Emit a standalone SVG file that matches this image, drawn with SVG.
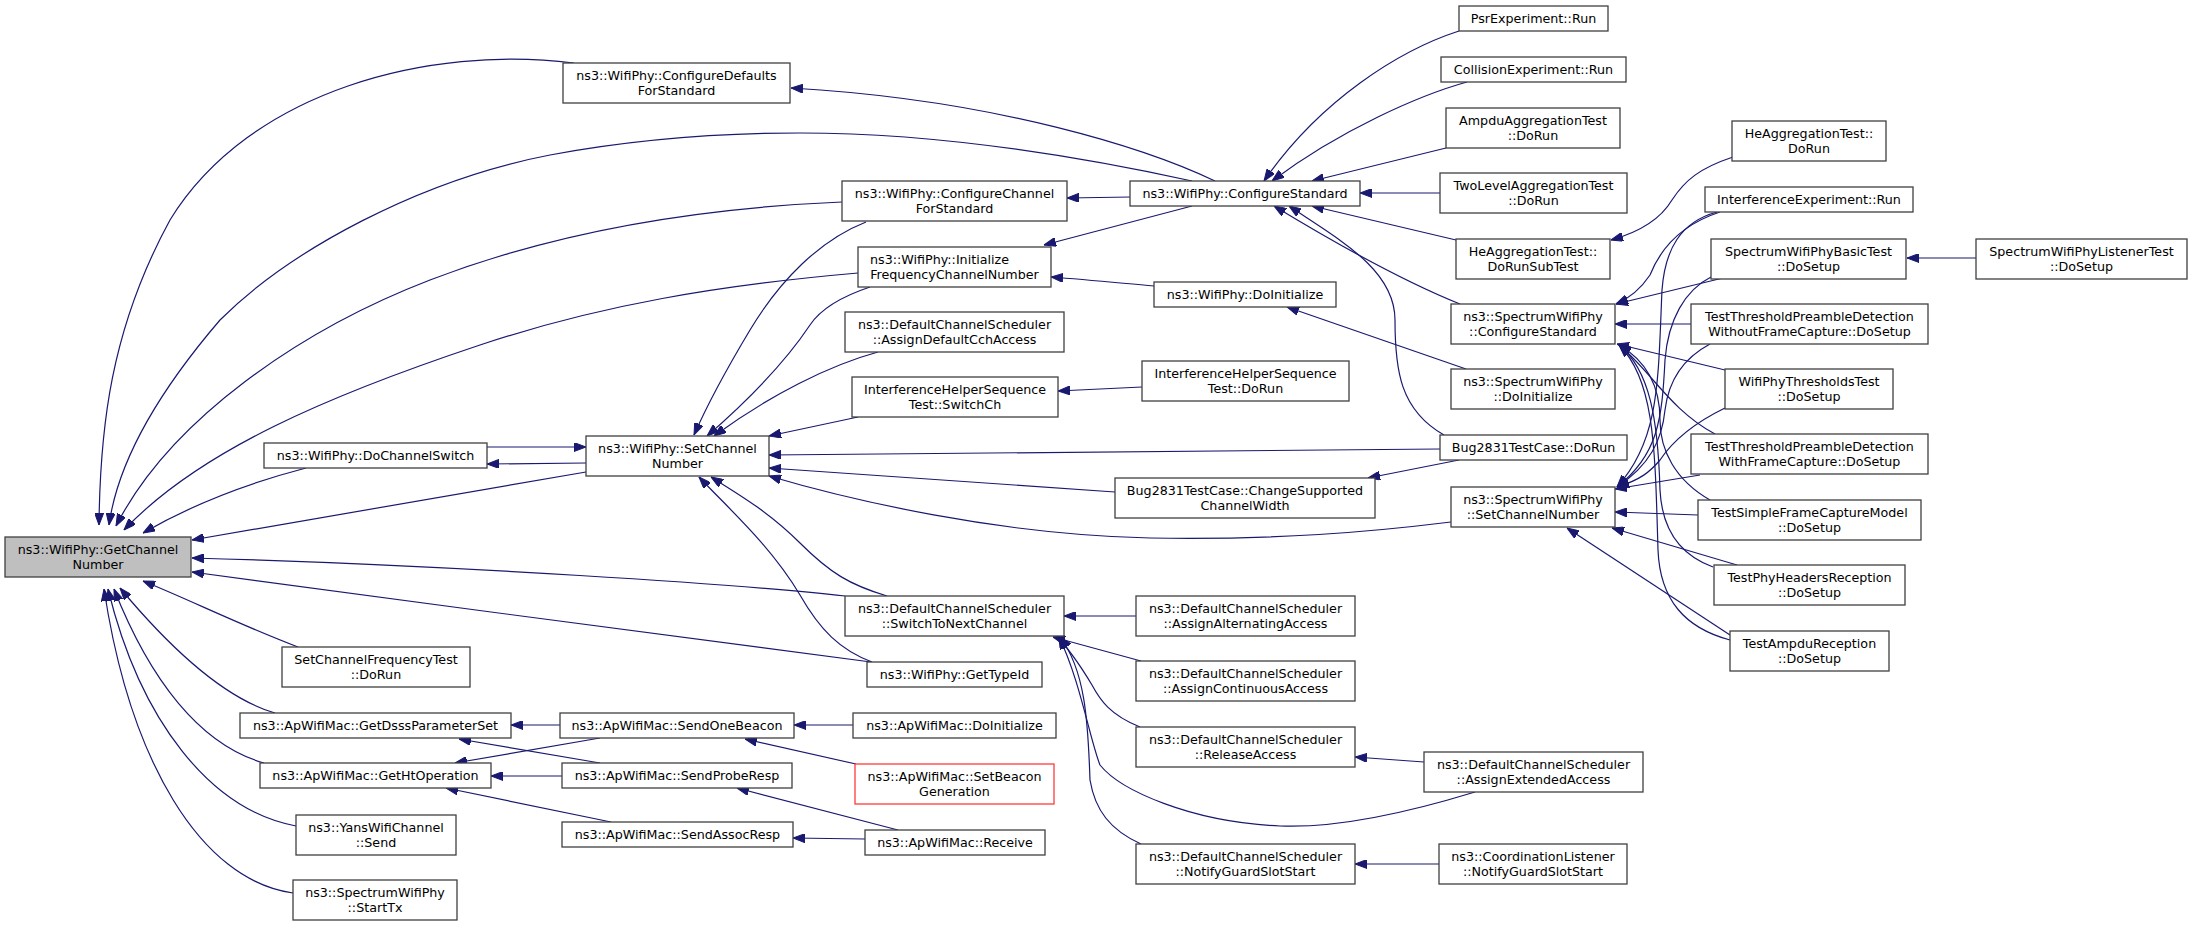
<svg xmlns="http://www.w3.org/2000/svg" width="2192" height="925" viewBox="0 0 2192 925">
<style>
rect{fill:#fff;stroke:#404040;stroke-width:1.3}
rect.hl{fill:#bfbfbf}
rect.red{stroke:#ff3a3a}
text{font-family:"DejaVu Sans","Liberation Sans",sans-serif;font-size:12.7px;text-anchor:middle;fill:#000}
text.l{text-anchor:start}
#edges path{fill:none;stroke:#191970;stroke-width:1.2;marker-end:url(#a)}
</style>
<defs>
<marker id="a" markerUnits="userSpaceOnUse" markerWidth="12" markerHeight="9" refX="12" refY="4.5" orient="auto" viewBox="0 0 12 9"><path d="M0,0 L12,4.5 L0,9 z" fill="#191970" stroke="#191970" stroke-width="1"/></marker>
</defs>
<rect x="0" y="0" width="2192" height="925" style="fill:#fff;stroke:none"/>
<g id="edges">
<path d="M574,63 C430,45 250,90 170,220 C110,330 100,430 99,525"/>
<path d="M1192,181 C1050,150 920,133 800,133 C700,133 620,142 550,155 C420,180 290,250 220,320 C160,390 118,460 109,525"/>
<path d="M842,202 C700,208 560,230 430,280 C300,330 170,420 116,526"/>
<path d="M858,273 C720,285 600,305 480,345 C330,395 200,450 124,530"/>
<path d="M306,468 C260,480 200,500 143,533"/>
<path d="M586,472 L192,540"/>
<path d="M845,596 C750,585 450,565 192,558"/>
<path d="M871,662 C700,640 400,600 192,572"/>
<path d="M298,647 C240,625 190,600 143,581"/>
<path d="M275,713 C230,700 180,660 120,588"/>
<path d="M264,763 C200,745 150,680 114,589"/>
<path d="M296,826 C210,810 140,720 108,589"/>
<path d="M293,893 C200,880 130,760 104,589"/>
<path d="M487,447 L586,447"/>
<path d="M586,463 L487,464"/>
<path d="M866,222 C820,240 780,280 750,330 C720,380 705,410 694,435"/>
<path d="M870,287 C840,297 820,310 810,325 C790,355 760,390 707,436"/>
<path d="M878,352 C830,365 770,395 714,436"/>
<path d="M858,417 L769,436"/>
<path d="M1440,449 L769,455"/>
<path d="M1115,492 L769,468"/>
<path d="M1451,522 C1370,532 1280,540 1150,538 C1000,535 850,500 769,476"/>
<path d="M887,596 C850,585 830,573 800,543 C770,513 740,495 711,477"/>
<path d="M872,662 C840,650 820,630 800,595 C770,545 730,510 699,477"/>
<path d="M1215,181 C1150,150 1000,100 791,88"/>
<path d="M1131,197 L1067,198"/>
<path d="M1192,206 L1044,245"/>
<path d="M1459,31 C1400,50 1320,100 1264,181"/>
<path d="M1467,82 C1420,95 1340,130 1272,181"/>
<path d="M1446,148 L1312,181"/>
<path d="M1440,193 L1360,193"/>
<path d="M1456,240 L1312,206"/>
<path d="M1460,304 C1400,280 1330,240 1274,206"/>
<path d="M1444,435 C1400,410 1395,370 1395,320 C1395,270 1340,240 1289,206"/>
<path d="M1154,286 C1120,283 1090,280 1051,277"/>
<path d="M1466,369 L1287,307"/>
<path d="M1142,387 L1058,391"/>
<path d="M1733,157 C1700,168 1685,180 1672,200 C1660,220 1640,232 1611,240"/>
<path d="M1976,258 L1907,258"/>
<path d="M1459,460 L1368,478"/>
<path d="M1136,616 L1064,616"/>
<path d="M1141,661 L1053,637"/>
<path d="M1140,727 C1110,715 1100,700 1092,685 C1080,665 1070,650 1057,637"/>
<path d="M1475,792 C1400,815 1330,828 1280,826 C1190,822 1120,790 1100,765 C1090,740 1080,680 1059,637"/>
<path d="M1141,844 C1110,830 1095,810 1090,780 C1088,720 1085,670 1060,637"/>
<path d="M1424,762 L1355,757"/>
<path d="M1439,864 L1355,864"/>
<path d="M560,725 L511,725"/>
<path d="M600,763 L459,739"/>
<path d="M600,738 L455,763"/>
<path d="M562,776 L491,776"/>
<path d="M611,822 L446,788"/>
<path d="M853,725 L794,725"/>
<path d="M856,764 L745,739"/>
<path d="M898,830 L737,788"/>
<path d="M865,839 L793,838"/>
<path d="M1720,212 C1680,225 1660,250 1650,275 C1640,290 1630,298 1616,304"/>
<path d="M1723,278 L1616,304"/>
<path d="M1691,324 L1615,324"/>
<path d="M1725,370 L1617,344"/>
<path d="M1715,434 C1670,410 1650,370 1619,345"/>
<path d="M1710,500 C1675,480 1660,450 1660,420 C1660,385 1645,360 1619,345"/>
<path d="M1713,567 C1680,555 1662,530 1660,490 C1658,420 1650,370 1619,345"/>
<path d="M1730,640 C1685,628 1660,600 1658,550 C1655,450 1655,380 1619,345"/>
<path d="M1717,212 C1680,222 1665,250 1662,290 C1658,380 1660,440 1617,487"/>
<path d="M1711,277 C1685,290 1668,320 1665,360 C1662,420 1658,455 1617,487"/>
<path d="M1710,344 C1680,360 1668,385 1665,410 C1662,440 1650,465 1617,487"/>
<path d="M1725,408 C1690,425 1670,445 1660,460 C1650,472 1640,480 1617,487"/>
<path d="M1700,475 L1615,489"/>
<path d="M1698,515 L1615,512"/>
<path d="M1737,565 L1612,528"/>
<path d="M1730,635 L1567,528"/>
</g>
<g id="n1"><rect class="hl" x="5" y="537" width="186" height="40"/><text x="98" y="554">ns3::WifiPhy::GetChannel</text><text x="98" y="568.5">Number</text></g>
<g id="n2"><rect x="563" y="63" width="227" height="40"/><text x="676.5" y="80">ns3::WifiPhy::ConfigureDefaults</text><text x="676.5" y="94.5">ForStandard</text></g>
<g id="n3"><rect x="842" y="181" width="225" height="40"/><text x="954.5" y="198">ns3::WifiPhy::ConfigureChannel</text><text x="954.5" y="212.5">ForStandard</text></g>
<g id="n4"><rect x="858" y="247" width="193" height="40"/><text class="l" x="870" y="264">ns3::WifiPhy::Initialize</text><text x="954.5" y="278.5">FrequencyChannelNumber</text></g>
<g id="n5"><rect x="845" y="312" width="219" height="40"/><text x="954.5" y="329">ns3::DefaultChannelScheduler</text><text x="954.5" y="343.5">::AssignDefaultCchAccess</text></g>
<g id="n6"><rect x="852" y="377" width="206" height="40"/><text x="955" y="394">InterferenceHelperSequence</text><text x="955" y="408.5">Test::SwitchCh</text></g>
<g id="n7"><rect x="264" y="443" width="223" height="25"/><text x="375.5" y="460">ns3::WifiPhy::DoChannelSwitch</text></g>
<g id="n8"><rect x="586" y="436" width="183" height="40"/><text x="677.5" y="453">ns3::WifiPhy::SetChannel</text><text x="677.5" y="467.5">Number</text></g>
<g id="n9"><rect x="282" y="647" width="188" height="40"/><text x="376" y="664">SetChannelFrequencyTest</text><text x="376" y="678.5">::DoRun</text></g>
<g id="n10"><rect x="240" y="713" width="271" height="25"/><text x="375.5" y="730">ns3::ApWifiMac::GetDsssParameterSet</text></g>
<g id="n11"><rect x="260" y="763" width="231" height="25"/><text x="375.5" y="780">ns3::ApWifiMac::GetHtOperation</text></g>
<g id="n12"><rect x="296" y="815" width="160" height="40"/><text x="376" y="832">ns3::YansWifiChannel</text><text x="376" y="846.5">::Send</text></g>
<g id="n13"><rect x="293" y="880" width="164" height="40"/><text x="375" y="897">ns3::SpectrumWifiPhy</text><text x="375" y="911.5">::StartTx</text></g>
<g id="n14"><rect x="845" y="596" width="219" height="40"/><text x="954.5" y="613">ns3::DefaultChannelScheduler</text><text x="954.5" y="627.5">::SwitchToNextChannel</text></g>
<g id="n15"><rect x="867" y="662" width="175" height="25"/><text x="954.5" y="679">ns3::WifiPhy::GetTypeId</text></g>
<g id="n16"><rect x="560" y="713" width="234" height="25"/><text x="677" y="730">ns3::ApWifiMac::SendOneBeacon</text></g>
<g id="n17"><rect x="853" y="713" width="203" height="25"/><text x="954.5" y="730">ns3::ApWifiMac::DoInitialize</text></g>
<g id="n18"><rect x="562" y="763" width="230" height="25"/><text x="677" y="780">ns3::ApWifiMac::SendProbeResp</text></g>
<g id="n19"><rect class="red" x="855" y="764" width="199" height="40"/><text x="954.5" y="781">ns3::ApWifiMac::SetBeacon</text><text x="954.5" y="795.5">Generation</text></g>
<g id="n20"><rect x="562" y="822" width="231" height="25"/><text x="677.5" y="839">ns3::ApWifiMac::SendAssocResp</text></g>
<g id="n21"><rect x="865" y="830" width="180" height="25"/><text x="955" y="847">ns3::ApWifiMac::Receive</text></g>
<g id="n22"><rect x="1130" y="181" width="230" height="25"/><text x="1245" y="198">ns3::WifiPhy::ConfigureStandard</text></g>
<g id="n23"><rect x="1154" y="282" width="182" height="25"/><text x="1245" y="299">ns3::WifiPhy::DoInitialize</text></g>
<g id="n24"><rect x="1142" y="361" width="207" height="40"/><text x="1245.5" y="378">InterferenceHelperSequence</text><text x="1245.5" y="392.5">Test::DoRun</text></g>
<g id="n25"><rect x="1115" y="478" width="260" height="40"/><text x="1245" y="495">Bug2831TestCase::ChangeSupported</text><text x="1245" y="509.5">ChannelWidth</text></g>
<g id="n26"><rect x="1136" y="596" width="219" height="40"/><text x="1245.5" y="613">ns3::DefaultChannelScheduler</text><text x="1245.5" y="627.5">::AssignAlternatingAccess</text></g>
<g id="n27"><rect x="1136" y="661" width="219" height="40"/><text x="1245.5" y="678">ns3::DefaultChannelScheduler</text><text x="1245.5" y="692.5">::AssignContinuousAccess</text></g>
<g id="n28"><rect x="1136" y="727" width="219" height="40"/><text x="1245.5" y="744">ns3::DefaultChannelScheduler</text><text x="1245.5" y="758.5">::ReleaseAccess</text></g>
<g id="n29"><rect x="1136" y="844" width="219" height="40"/><text x="1245.5" y="861">ns3::DefaultChannelScheduler</text><text x="1245.5" y="875.5">::NotifyGuardSlotStart</text></g>
<g id="n30"><rect x="1459" y="6" width="149" height="25"/><text x="1533.5" y="23">PsrExperiment::Run</text></g>
<g id="n31"><rect x="1441" y="57" width="185" height="25"/><text x="1533.5" y="74">CollisionExperiment::Run</text></g>
<g id="n32"><rect x="1446" y="108" width="174" height="40"/><text x="1533" y="125">AmpduAggregationTest</text><text x="1533" y="139.5">::DoRun</text></g>
<g id="n33"><rect x="1440" y="173" width="187" height="40"/><text x="1533.5" y="190">TwoLevelAggregationTest</text><text x="1533.5" y="204.5">::DoRun</text></g>
<g id="n34"><rect x="1456" y="239" width="154" height="40"/><text x="1533" y="256">HeAggregationTest::</text><text x="1533" y="270.5">DoRunSubTest</text></g>
<g id="n35"><rect x="1451" y="304" width="164" height="40"/><text x="1533" y="321">ns3::SpectrumWifiPhy</text><text x="1533" y="335.5">::ConfigureStandard</text></g>
<g id="n36"><rect x="1451" y="369" width="164" height="40"/><text x="1533" y="386">ns3::SpectrumWifiPhy</text><text x="1533" y="400.5">::DoInitialize</text></g>
<g id="n37"><rect x="1440" y="435" width="187" height="25"/><text x="1533.5" y="452">Bug2831TestCase::DoRun</text></g>
<g id="n38"><rect x="1451" y="487" width="164" height="40"/><text x="1533" y="504">ns3::SpectrumWifiPhy</text><text x="1533" y="518.5">::SetChannelNumber</text></g>
<g id="n39"><rect x="1424" y="752" width="219" height="40"/><text x="1533.5" y="769">ns3::DefaultChannelScheduler</text><text x="1533.5" y="783.5">::AssignExtendedAccess</text></g>
<g id="n40"><rect x="1439" y="844" width="188" height="40"/><text x="1533" y="861">ns3::CoordinationListener</text><text x="1533" y="875.5">::NotifyGuardSlotStart</text></g>
<g id="n41"><rect x="1732" y="121" width="154" height="40"/><text x="1809" y="138">HeAggregationTest::</text><text x="1809" y="152.5">DoRun</text></g>
<g id="n42"><rect x="1705" y="187" width="208" height="25"/><text x="1809" y="204">InterferenceExperiment::Run</text></g>
<g id="n43"><rect x="1711" y="239" width="195" height="40"/><text x="1808.5" y="256">SpectrumWifiPhyBasicTest</text><text x="1808.5" y="270.5">::DoSetup</text></g>
<g id="n44"><rect x="1976" y="239" width="211" height="40"/><text x="2081.5" y="256">SpectrumWifiPhyListenerTest</text><text x="2081.5" y="270.5">::DoSetup</text></g>
<g id="n45"><rect x="1691" y="304" width="237" height="40"/><text x="1809.5" y="321">TestThresholdPreambleDetection</text><text x="1809.5" y="335.5">WithoutFrameCapture::DoSetup</text></g>
<g id="n46"><rect x="1725" y="369" width="168" height="40"/><text x="1809" y="386">WifiPhyThresholdsTest</text><text x="1809" y="400.5">::DoSetup</text></g>
<g id="n47"><rect x="1691" y="434" width="237" height="40"/><text x="1809.5" y="451">TestThresholdPreambleDetection</text><text x="1809.5" y="465.5">WithFrameCapture::DoSetup</text></g>
<g id="n48"><rect x="1698" y="500" width="223" height="40"/><text x="1809.5" y="517">TestSimpleFrameCaptureModel</text><text x="1809.5" y="531.5">::DoSetup</text></g>
<g id="n49"><rect x="1714" y="565" width="191" height="40"/><text x="1809.5" y="582">TestPhyHeadersReception</text><text x="1809.5" y="596.5">::DoSetup</text></g>
<g id="n50"><rect x="1730" y="631" width="159" height="40"/><text x="1809.5" y="648">TestAmpduReception</text><text x="1809.5" y="662.5">::DoSetup</text></g>
</svg>
